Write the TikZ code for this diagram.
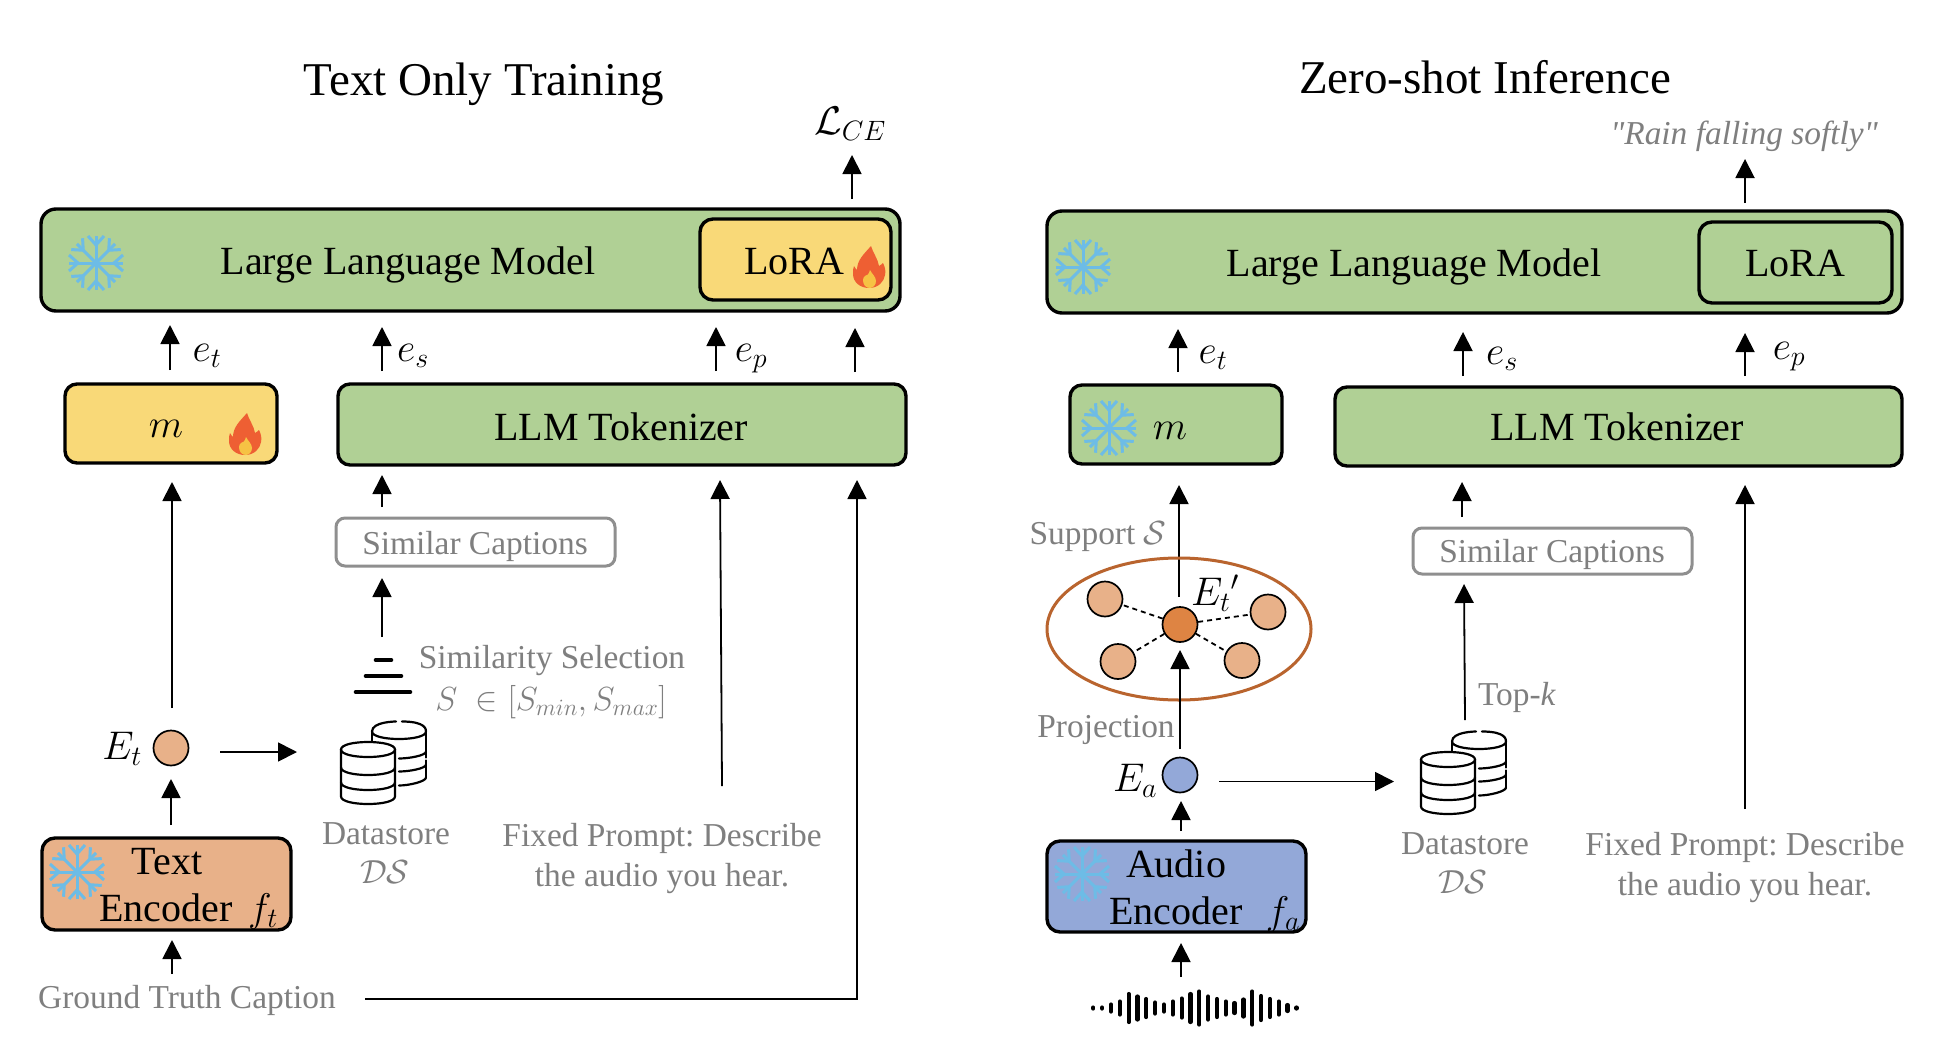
\RequirePackage{fix-cm}
\documentclass[tikz,border=0pt]{standalone}
\usepackage{fontspec}
\setmainfont{Liberation Serif}
\newfontfamily\plainserif{Liberation Serif}
\usetikzlibrary{arrows.meta}
\definecolor{cgreen}{HTML}{B0D095}
\definecolor{cyellow}{HTML}{F9D978}
\definecolor{cpeach}{HTML}{E8B189}
\definecolor{cblue}{HTML}{93A8D8}
\definecolor{cdark}{HTML}{DE8443}
\definecolor{cring}{HTML}{B9642E}
\definecolor{cgray}{HTML}{7F7F7F}
\definecolor{cframe}{HTML}{8F8F8F}
\definecolor{cice}{HTML}{6DBCE6}
\definecolor{cflame}{HTML}{EE5F33}
\definecolor{cflamein}{HTML}{F6C244}
\newcommand\fsz[1]{\fontsize{#1}{#1}\selectfont\frenchspacing}
\tikzset{
  x=1pt,y=-1pt,
  block/.style={draw=black,line width=3.4pt,rounded corners=15pt,inner sep=0pt},
  greybox/.style={draw=cframe,line width=3pt,rounded corners=9pt,inner sep=0pt,fill=white},
  arr/.style={draw=black,line width=1.8pt,-{Triangle[length=19pt,width=19pt]}},
  lab/.style={inner sep=0pt,anchor=base,font=\fsz{40}},
  sublab/.style={inner sep=0pt,anchor=base,font=\fsz{33.4},text=cgray,align=center},
  titlelab/.style={inner sep=0pt,anchor=base,font=\fsz{47}},
  dot/.style={circle,draw=black,line width=1.7pt,minimum size=35pt,inner sep=0pt},
  spoke/.style={line width=1.8pt,dash pattern=on 5pt off 4pt},
  snow/.pic={
    \foreach \a in {0,45,...,315}{
      \begin{scope}[rotate=\a]
        \draw[cice,line width=3pt] (0,0) -- (27,0);
        \draw[cice,line width=3pt] (27,-8) -- (18,0) -- (27,8);
      \end{scope}
    }
  },
  flame/.pic={
    \fill[cflame] (2,-22) .. controls (4,-15) and (9,-9) .. (10,-2)
      .. controls (12,-3) and (13,-4) .. (14,-5)
      .. controls (16,-1) and (17,3) .. (16,7)
      .. controls (15,14) and (9,20) .. (0,20)
      .. controls (-9,20) and (-16,14) .. (-16,6)
      .. controls (-16,3) and (-16,0) .. (-15,-2)
      .. controls (-14,0) and (-13,1) .. (-12,2)
      .. controls (-12,-8) and (-5,-14) .. (2,-22) -- cycle;
    \fill[cflamein] (1,2) .. controls (3,6) and (7,9) .. (7,13)
      .. controls (7,17) and (4,20) .. (1,20)
      .. controls (-3,20) and (-6,17) .. (-6,12)
      .. controls (-6,10) and (-5,9) .. (-4,8)
      .. controls (-2,8) and (0,6) .. (1,2) -- cycle;
  },
  dbstack/.pic={
    \begin{scope}[line width=2.2pt,line cap=round,shift={(31,-18)}]
      \draw (-27,0) .. controls (-27,-10) and (-3,-10) .. (-3,-10);
      \draw (3,-10) .. controls (27,-10) and (27,-2) .. (27,0);
      \draw (-27,0) .. controls (-27,10) and (27,10) .. (27,0);
      \draw (27,0) -- (27,26);
      \draw (27,29) -- (27,46);
      \draw (-27,0) -- (-27,20);
      \draw (0,27) .. controls (10,27) and (27,24) .. (27,20);
      \draw (0,40) .. controls (10,40) and (27,37) .. (27,33);
      \draw (0,54) .. controls (10,54) and (27,50) .. (27,46);
    \end{scope}
    \begin{scope}[line width=2.2pt,line cap=round]
      \fill[white] (-27,0) rectangle (27,47);
      \draw[fill=white] (-27,0) .. controls (-27,-10) and (27,-10) .. (27,0)
        .. controls (27,10) and (-27,10) .. (-27,0) -- cycle;
      \draw (-27,0) -- (-27,47) .. controls (-27,57) and (27,57) .. (27,47) -- (27,0);
      \draw (-27,18) .. controls (-27,28) and (27,28) .. (27,18);
      \draw (-27,33) .. controls (-27,43) and (27,43) .. (27,33);
    \end{scope}
  },
}
% name, style, x1, y1, x2, y2
\newcommand\boxat[6]{%
  \pgfmathsetmacro\bxw{#5-#3}\pgfmathsetmacro\bxh{#6-#4}%
  \pgfmathsetmacro\bxx{(#5+#3)/2}\pgfmathsetmacro\bxy{(#6+#4)/2}%
  \node[#2,minimum width=\bxw pt,minimum height=\bxh pt] (#1) at (\bxx,\bxy) {};}
% name, x1, y1, x2, y2
\newcommand\link[5]{%
  \coordinate (#1a) at (#2,#3);\coordinate (#1b) at (#4,#5);
  \draw[arr] (#1a) -- (#1b);}
\begin{document}
\begin{tikzpicture}
\path[use as bounding box,fill=white] (0,0) rectangle (1946,1054);

%%% LEFT
\node[titlelab] (titleL) at (484,96) {Text Only Training};
\node[lab] (lossL) at (850,135) {$\mathcal{L}_{CE}$};
\link{outL}{852}{199}{852}{155}

\boxat{llmL}{block,fill=cgreen}{41}{209}{900}{311}
\boxat{loraL}{block,fill=cyellow,rounded corners=13pt}{700}{219}{891}{300}
\pic at (96,263) {snow};
\node[lab] (llmtL) at (408,274) {Large Language Model};
\node[lab] (loratL) at (794,274) {LoRA};
\pic at (869,268) {flame};

\link{etL}{170}{370}{170}{325}
\link{esL}{382}{371}{382}{327}
\link{epL}{716}{371}{716}{327}
\link{e4L}{855}{372}{855}{328}
\node[lab] (etlabL) at (207,361) {$e_t$};
\node[lab] (eslabL) at (413,361) {$e_s$};
\node[lab] (eplabL) at (751,361) {$e_p$};

\boxat{mL}{block,fill=cyellow,rounded corners=12pt}{65}{384}{277}{463}
\node[lab] (mtL) at (166,437) {$m$};
\pic at (245,435) {flame};
\boxat{tokL}{block,fill=cgreen,rounded corners=12pt}{338}{384}{906}{465}
\node[lab] (toktL) at (621,440) {LLM Tokenizer};

\link{mInL}{172}{708}{172}{482}
\link{tokInL}{382}{507}{382}{475}
\link{fixL}{722}{786}{720}{480}

\boxat{simL}{greybox}{336}{518}{615}{566}
\node[sublab] (simtL) at (475,554) {Similar Captions};
\link{selL}{382}{637}{382}{578}
\foreach \yy/\xa/\xb/\nm in {660/376/391/a,676/366/401/b,692/356/410/c}{
  \draw[line width=4.6pt,line cap=round] (\xa,\yy) -- (\xb,\yy);
}
\node[sublab] (selt) at (552,668) {Similarity Selection};
\node[sublab] (selrange) at (551,710) {$S\;\in[S_{min},S_{max}]$};

\node[lab] (EtlabL) at (122,759) {$E_t$};
\node[dot,fill=cpeach] (EtL) at (171,748) {};
\link{toDsL}{220}{752}{297}{752}
\pic at (368,749.5) {dbstack};
\node[sublab] (dsL) at (386,844) {Datastore};
\node[sublab] (dsmL) at (385,883) {$\mathcal{DS}$};
\node[sublab] (fixaL) at (662,846) {Fixed Prompt: Describe};
\node[sublab] (fixbL) at (662,886) {the audio you hear.};

\boxat{encL}{block,fill=cpeach,rounded corners=13pt}{42}{838}{291}{930}
\pic at (77,872) {snow};
\node[lab] (encaL) at (167,874) {Text};
\node[lab] (encbL) at (166,921) {Encoder};
\node[lab] (ftL) at (263,921) {$f_t$};
\link{enOutL}{171}{825}{171}{779}
\link{gtInL}{172}{974}{172}{940}
\node[sublab] (gtL) at (187,1008) {Ground Truth Caption};
\coordinate (gtA) at (365,999);
\coordinate (gtB) at (857,480);
\draw[arr] (gtA) -| (gtB);

%%% RIGHT
\node[titlelab] (titleR) at (1485,94) {Zero-shot Inference};
\node[sublab,font=\fsz{33.4}\plainserif\itshape] (outtR) at (1744,145) {"Rain falling softly"};
\link{outR}{1745}{203}{1745}{159}

\boxat{llmR}{block,fill=cgreen}{1047}{211}{1902}{313}
\boxat{loraR}{block,fill=cgreen,rounded corners=13pt}{1699}{222}{1892}{303}
\pic at (1083,267) {snow};
\node[lab] (llmtR) at (1414,276) {Large Language Model};
\node[lab] (loratR) at (1795,276) {LoRA};

\link{etR}{1178}{372}{1178}{329}
\link{esR}{1463}{376}{1463}{332}
\link{epR}{1745}{376}{1745}{333}
\node[lab] (etlabR) at (1213,363) {$e_t$};
\node[lab] (eslabR) at (1502,364) {$e_s$};
\node[lab] (eplabR) at (1789,359) {$e_p$};

\boxat{mR}{block,fill=cgreen,rounded corners=12pt}{1070}{385}{1282}{464}
\pic at (1109,428) {snow};
\node[lab] (mtR) at (1170,439) {$m$};
\boxat{tokR}{block,fill=cgreen,rounded corners=12pt}{1335}{387}{1902}{466}
\node[lab] (toktR) at (1617,440) {LLM Tokenizer};

\link{mInR}{1179}{597}{1179}{485}
\link{tokInR}{1462}{517}{1462}{482}
\link{fixR}{1745}{809}{1745}{485}

\boxat{simR}{greybox}{1413}{528}{1692}{574}
\node[sublab] (simtR) at (1552,562) {Similar Captions};
\link{topR}{1465}{720}{1464}{584}
\node[sublab] (topk) at (1517,705) {Top-\textit{k}};
\node[sublab] (suppR) at (1098,544) {Support $\mathcal{S}$};

\draw[cring,line width=3pt] (1179,629) ellipse [x radius=132, y radius=71];
\node[dot,fill=cdark] (cC) at (1180,624.5) {};
\node[dot,fill=cpeach] (c1) at (1105,599) {};
\node[dot,fill=cpeach] (c2) at (1268,612) {};
\node[dot,fill=cpeach] (c3) at (1118,661.5) {};
\node[dot,fill=cpeach] (c4) at (1242,660.5) {};
\foreach \c in {c1,c2,c3,c4}{\draw[spoke] (cC) -- (\c);}
\node[lab] (EtpR) at (1215,605) {$E_t{}'$};
\link{projR}{1180}{749}{1180}{650}
\node[sublab] (projt) at (1106,737) {Projection};

\node[lab] (EalabR) at (1135,791) {$E_a$};
\node[dot,fill=cblue] (EaR) at (1180,775) {};
\link{toDsR}{1219}{781.5}{1394}{781.5}
\pic at (1448,759.5) {dbstack};
\node[sublab] (dsR) at (1465,854) {Datastore};
\node[sublab] (dsmR) at (1463,893) {$\mathcal{DS}$};
\node[sublab] (fixaR) at (1745,855) {Fixed Prompt: Describe};
\node[sublab] (fixbR) at (1745,895) {the audio you hear.};

\boxat{encR}{block,fill=cblue,rounded corners=13pt}{1047}{841}{1306}{932}
\pic at (1082,874) {snow};
\node[lab] (encaR) at (1176,877) {Audio};
\node[lab] (encbR) at (1176,924) {Encoder};
\node[lab] (faR) at (1283,924) {$f_a$};
\link{enOutR}{1181}{831}{1181}{801}
\link{wvInR}{1181}{977}{1181}{943}

\foreach \h [count=\i from 0] in {5,5,11,17,32,27,22,15,11,17,23,32,37,27,22,17,14,21,37,28,22,17,10,5}{
  \pgfmathsetmacro\wx{1093.3+8.83*\i}
  \draw[line width=4.2pt,line cap=round] (\wx,1008-\h/2+2) -- (\wx,1008+\h/2-2);
}
\end{tikzpicture}
\end{document}
